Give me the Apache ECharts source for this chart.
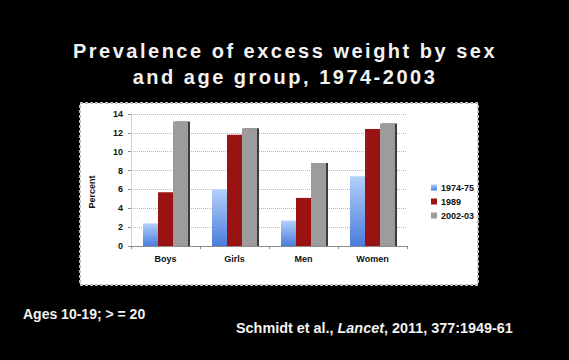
<!DOCTYPE html>
<html>
<head>
<meta charset="utf-8">
<script src="https://cdn.jsdelivr.net/npm/echarts@6/dist/echarts.min.js"></script>
<style>
  html, body { margin: 0; padding: 0; background: #000; }
  #chart { width: 569px; height: 360px; }
</style>
</head>
<body>
<div id="chart"></div>
<script>
const categories = ['Boys', 'Girls', 'Men', 'Women'];
const seriesNames = ['1974-75', '1989', '2002-03'];
const values1974 = [2.4, 6.0, 2.7, 7.4];
const values1989 = [5.7, 11.8, 5.1, 12.4];
const values2002 = [13.2, 12.5, 8.8, 13.0];
const yTicks = [0, 2, 4, 6, 8, 10, 12, 14];

const font = 'Liberation Sans, Arial, sans-serif';

// svg renderer so the wide letter spacing of the slide title can be applied
const chart = echarts.init(document.getElementById('chart'), null, { renderer: 'svg' });

const option = {
  backgroundColor: '#000',
  animation: false,
  title: {
    text: 'Prevalence of excess weight by sex\nand age group, 1974-2003',
    left: 280,
    top: 33,
    textAlign: 'center',
    textStyle: {
      color: '#f2f2f2',
      fontFamily: font,
      fontSize: 20,
      fontWeight: 'bold',
      lineHeight: 26
    }
  },
  graphic: [
    {
      type: 'rect',
      z: -10,
      shape: { x: 80, y: 103, width: 398, height: 182 },
      style: { fill: '#fff', stroke: '#bdbdbd', lineWidth: 2, lineDash: [3, 2] }
    },
    {
      type: 'text',
      x: 92,
      y: 192,
      rotation: Math.PI / 2,
      style: {
        text: 'Percent',
        fill: '#111',
        font: 'bold 9px ' + font,
        align: 'center',
        verticalAlign: 'middle'
      }
    },
    {
      type: 'text',
      left: 23,
      top: 307,
      style: {
        text: 'Ages 10-19; > = 20',
        fill: '#f2f2f2',
        font: 'bold 14px ' + font
      }
    },
    {
      type: 'text',
      left: 236,
      top: 321,
      style: {
        rich: {
          n: { fill: '#f2f2f2', font: 'bold 14.4px ' + font },
          i: { fill: '#f2f2f2', font: 'italic bold 14.4px ' + font }
        },
        text: '{n|Schmidt et al., }{i|Lancet}{n|, 2011, 377:1949-61}'
      }
    }
  ],
  legend: {
    orient: 'vertical',
    left: 426,
    top: 178,
    itemWidth: 6,
    itemHeight: 6,
    itemGap: 5,
    icon: 'rect',
    data: seriesNames,
    textStyle: { color: '#111', fontFamily: font, fontSize: 9, fontWeight: 'bold', padding: [0, 0, 0, -1] }
  },
  grid: { left: 131, right: 162, top: 114, bottom: 114 },
  xAxis: {
    type: 'category',
    data: categories,
    axisLine: { lineStyle: { color: '#8c8c8c', width: 1 } },
    axisTick: { show: true, length: 3, lineStyle: { color: '#8c8c8c' } },
    axisLabel: { color: '#111', fontFamily: font, fontSize: 9, fontWeight: 'bold', margin: 8 }
  },
  yAxis: {
    type: 'value',
    min: 0,
    max: 14,
    interval: 2,
    axisLine: { show: true, lineStyle: { color: '#c8c8c8', type: 'dotted' } },
    axisTick: { show: true, length: 3, lineStyle: { color: '#8c8c8c' } },
    axisLabel: {
      color: '#111', fontFamily: font, fontSize: 9, fontWeight: 'bold', margin: 8,
      formatter: v => (yTicks.includes(v) ? String(v) : '')
    },
    splitLine: { lineStyle: { color: '#b8b8b8', type: 'dotted' } }
  },
  series: [
    {
      name: seriesNames[0],
      type: 'bar',
      data: values1974,
      barWidth: 15,
      barGap: '0%',
      itemStyle: {
        color: new echarts.graphic.LinearGradient(0, 0, 0, 1, [
          { offset: 0, color: '#b4d0fa' },
          { offset: 1, color: '#4a7ddc' }
        ])
      }
    },
    {
      name: seriesNames[1],
      type: 'bar',
      data: values1989,
      barWidth: 15,
      barGap: '0%',
      itemStyle: { color: '#9a1212' }
    },
    {
      name: seriesNames[2],
      type: 'bar',
      data: values2002,
      barWidth: 15,
      barGap: '0%',
      itemStyle: {
        color: '#9c9c9c',
        shadowColor: '#3a3a3a',
        shadowOffsetX: 2,
        shadowBlur: 0
      }
    }
  ]
};

chart.setOption(option);

// widen the title lines like the slide
const spaceTitle = () => {
  document.querySelectorAll('#chart svg text').forEach((t) => {
    const s = t.textContent || '';
    if (s.startsWith('Prevalence') || s.startsWith('and age')) {
      t.style.letterSpacing = '2.5px';
    }
  });
};
spaceTitle();
chart.on('finished', spaceTitle);
</script>
</body>
</html>
